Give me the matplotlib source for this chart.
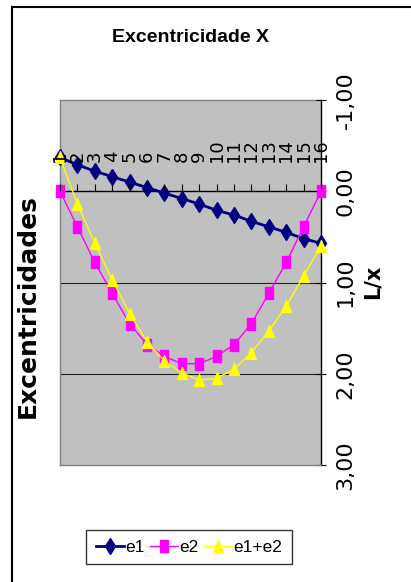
import matplotlib
matplotlib.use("Agg")
import matplotlib.pyplot as plt
from matplotlib.lines import Line2D

categories = list(range(1, 17))
cat_labels = [str(c) for c in categories]
e1 = [-0.37, -0.29, -0.22, -0.16, -0.10, -0.04, 0.02, 0.08, 0.14, 0.21, 0.26, 0.33, 0.39, 0.45, 0.52, 0.57]
e2 = [0.00, 0.39, 0.78, 1.12, 1.45, 1.68, 1.81, 1.89, 1.89, 1.81, 1.68, 1.45, 1.12, 0.78, 0.39, 0.00]
e1e2 = [-0.37, 0.14, 0.57, 0.97, 1.34, 1.65, 1.86, 1.99, 2.07, 2.05, 1.95, 1.77, 1.53, 1.26, 0.93, 0.60]
y_ticks = [-1, 0, 1, 2, 3]
y_labels = ["-1,00", "0,00", "1,00", "2,00", "3,00"]

W, H = 411, 582
fig = plt.figure(figsize=(W / 100, H / 100), dpi=100)
fig.patch.set_facecolor("white")

L, R, T, B = 60, 321, 100, 465
ax = fig.add_axes([L / W, 1 - B / H, (R - L) / W, (B - T) / H])
ax.set_facecolor("#C0C0C0")
ax.set_xlim(1, 16)
ax.set_ylim(3, -1)

# markers (tall shapes)
sq = [(-0.3, -0.5), (0.3, -0.5), (0.3, 0.5), (-0.3, 0.5), (-0.3, -0.5)]
tri = [(-0.42, -0.5), (0.42, -0.5), (0.0, 0.5), (-0.42, -0.5)]

ax.plot(categories, e1, color="#000080", lw=2.0, marker="d", markersize=8,
        markerfacecolor="#000080", markeredgecolor="#000080", label="e1", zorder=3,
        clip_on=False)
ax.plot(categories, e2, color="#FF00FF", lw=1.0, marker=sq, markersize=8.5,
        markerfacecolor="#FF00FF", markeredgecolor="#FF00FF", label="e2", zorder=4,
        clip_on=False)
ax.plot(categories, e1e2, color="#FFFF00", lw=1.0, marker=tri, markersize=8.5,
        markerfacecolor="#FFFF00", markeredgecolor="#FFFF00", label="e1+e2", zorder=5,
        clip_on=False)

# gridlines
for g in [1, 2]:
    ax.axhline(g, color="#202020", lw=0.8, zorder=1)
ax.axhline(-1, color="#808080", lw=1.0, zorder=1, clip_on=False)

for s in ["left", "bottom"]:
    ax.spines[s].set_color("#808080")
    ax.spines[s].set_linewidth(1.0)
ax.spines["right"].set_color("black")
ax.spines["right"].set_linewidth(1.0)

# category axis on the zero line
ax.spines["top"].set_position(("data", 0))
ax.spines["top"].set_color("black")
ax.spines["top"].set_linewidth(1.0)
ax.xaxis.set_ticks_position("top")
ax.set_xticks(categories)
ax.set_xticklabels(cat_labels, rotation=90, family="DejaVu Sans", fontsize=13)
ax.tick_params(axis="x", direction="out", length=5, width=0.8, pad=16, color="black")
ax.xaxis.set_zorder(6)

# value axis on right
ax.yaxis.tick_right()
ax.set_yticks(y_ticks)
ax.set_yticklabels(y_labels, rotation=90, va="center", family="DejaVu Sans", fontsize=16)
ax.tick_params(axis="y", direction="inout", length=7, width=0.8, pad=7, color="black")

fig.text(190 / W, 1 - 38 / H, "Excentricidade X", ha="center", va="center",
         family="Liberation Sans", fontweight="bold", fontsize=14)
fig.text(28 / W, 1 - 306 / H, "Excentricidades", ha="center", va="center",
         rotation=90, family="DejaVu Sans", fontweight="bold", fontsize=18)
fig.text(373 / W, 1 - 282 / H, "L/x", ha="center", va="center",
         rotation=90, family="DejaVu Sans", fontweight="bold", fontsize=15)

leg = fig.legend(loc="center", bbox_to_anchor=(189 / W, 1 - 547 / H), ncol=3,
                 prop={"family": "Liberation Sans", "size": 12.5}, frameon=True, fancybox=False,
                 edgecolor="black", handlelength=1.6, handletextpad=0.1,
                 columnspacing=0.3, borderpad=0.55, borderaxespad=0)
leg.get_frame().set_linewidth(1.0)

# chart area border (left and top)
fig.add_artist(Line2D([12 / W, 12 / W], [0, 1 - 6.5 / H], color="black", lw=1.5,
                      transform=fig.transFigure))
fig.add_artist(Line2D([12 / W, 1], [1 - 6.5 / H, 1 - 6.5 / H], color="black", lw=1.5,
                      transform=fig.transFigure))

fig.savefig("out.png", dpi=100)
